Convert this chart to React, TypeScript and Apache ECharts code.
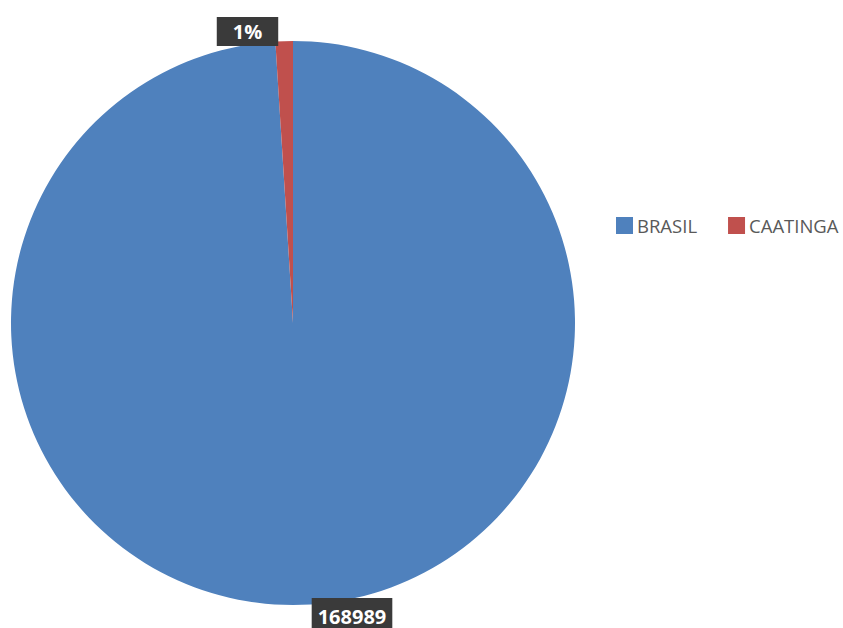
import React, { useEffect, useRef } from "react";
import * as echarts from "echarts";

const categories = ["BRASIL", "CAATINGA"];
const values = [168989, 1700];
const colors = ["#4F81BD", "#C0504D"];

export default function App() {
  const ref = useRef<HTMLDivElement>(null);
  useEffect(() => {
    if (!ref.current) return;
    const chart = echarts.init(ref.current, undefined, { renderer: "svg" });
    const total = values.reduce((a, b) => a + b, 0);
    const paddings = [
      [8, 6, 8, 6],
      [5, 16, 4, 16],
    ];
    chart.setOption({
      animation: false,
      backgroundColor: "#ffffff",
      color: colors,
      legend: {
        orient: "horizontal",
        left: 616,
        top: 216,
        right: 0,
        padding: 0,
        itemWidth: 17,
        itemHeight: 17,
        itemGap: 31,
        icon: "rect",
        textStyle: { color: "#595959", fontSize: 18.5, fontFamily: "Open Sans", padding: [0, 0, 0, -1] },
        data: categories,
      },
      series: [
        {
          type: "pie",
          center: [293, 323],
          radius: 282,
          startAngle: 90,
          clockwise: true,
          avoidLabelOverlap: false,
          data: categories.map((c, i) => ({
            name: c,
            value: values[i],
            label: { padding: paddings[i] },
          })),
          label: {
            show: true,
            position: "outside",
            formatter: (p: any) =>
              p.dataIndex === 0 ? String(p.value) : Math.round((p.value / total) * 100) + "%",
            color: "#ffffff",
            fontWeight: "bold",
            fontSize: 20,
            lineHeight: 20,
            fontFamily: "Open Sans",
            backgroundColor: "#3a3a3a",
          },
          labelLine: { show: false, length: 0, length2: 0 },
          labelLayout: (p: any) => {
            if (p.dataIndex === 0) {
              return { x: 352, y: 616, align: "center", verticalAlign: "middle" };
            }
            return { x: 247.5, y: 31.5, align: "center", verticalAlign: "middle" };
          },
        },
      ],
    });
    return () => chart.dispose();
  }, []);
  return (
    <div
      ref={ref}
      style={{ position: "fixed", left: 0, top: 0, width: 843, height: 628 }}
    />
  );
}
